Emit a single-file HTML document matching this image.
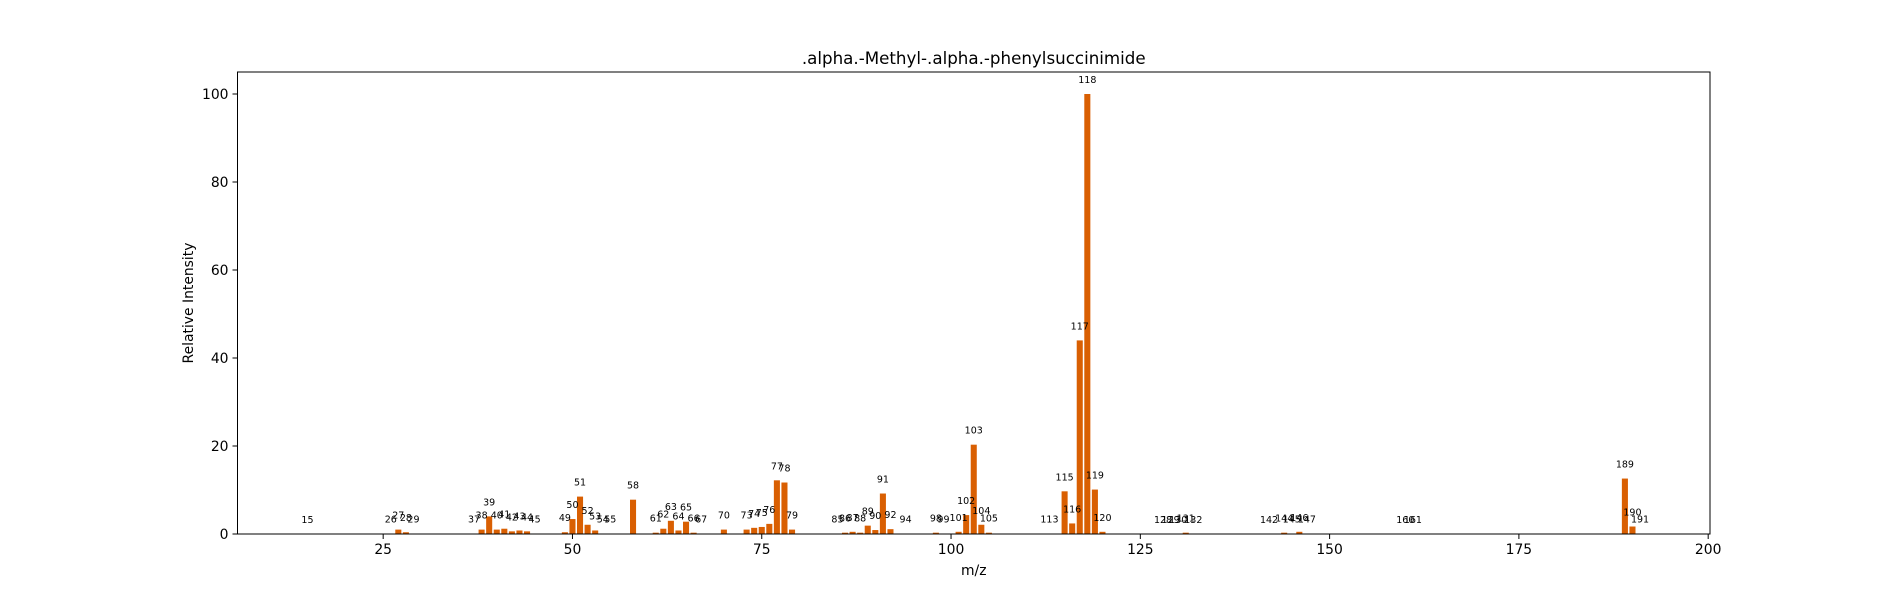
<!DOCTYPE html>
<html><head><meta charset="utf-8"><style>
html,body{margin:0;padding:0;background:#fff;}
svg{display:block;font-family:"DejaVu Sans","Liberation Sans",sans-serif;}
</style></head><body>
<svg id="chart" width="1900" height="600" xmlns="http://www.w3.org/2000/svg">
<rect width="1900" height="600" fill="#fff"/>
<text x="973.75" y="64" text-anchor="middle" font-size="16.7">.alpha.-Methyl-.alpha.-phenylsuccinimide</text>
<text x="973.75" y="575" text-anchor="middle" font-size="13.9">m/z</text>
<text transform="translate(193,303) rotate(-90)" text-anchor="middle" font-size="13.9">Relative Intensity</text>
<g id="bars"></g>
<g id="labels"></g>
<g id="axes"></g>
<rect x="237.5" y="72" width="1472.5" height="462" fill="none" stroke="#000" stroke-width="1"/>
</svg>
<script>
const mz = [15,26,27,28,29,37,38,39,40,41,42,43,44,45,49,50,51,52,53,54,55,58,61,62,63,64,65,66,67,70,73,74,75,76,77,78,79,85,86,87,88,89,90,91,92,94,98,99,101,102,103,104,105,113,115,116,117,118,119,120,128,129,130,131,132,142,144,145,146,147,160,161,189,190,191];
const intensity = [0.05,0.1,1.0,0.4,0.1,0.1,1.0,4.0,1.0,1.2,0.6,0.8,0.6,0.1,0.4,3.4,8.5,2.1,0.8,0.1,0.1,7.8,0.3,1.2,3.0,0.8,2.8,0.3,0.1,1.0,1.0,1.4,1.6,2.3,12.2,11.7,1.0,0.1,0.3,0.5,0.3,1.9,0.9,9.2,1.1,0.1,0.3,0.1,0.5,4.3,20.3,2.1,0.3,0.1,9.7,2.4,44,100,10.1,0.5,0.05,0.05,0.05,0.3,0.05,0.05,0.3,0.1,0.5,0.1,0.05,0.05,12.6,1.7,0.1];
const xTicks = [25,50,75,100,125,150,175,200];
const yTicks = [0,20,40,60,80,100];

const NS = "http://www.w3.org/2000/svg";
const L=237.5,R=1710,T=72,B=534,XMIN=5.76,XMAX=200.24,YMAX=105;
const xs = v => L + (v-XMIN)/(XMAX-XMIN)*(R-L);
const ys = v => B - v/YMAX*(B-T);
const bw = xs(0.8)-xs(0);
const bars=document.getElementById('bars'), labels=document.getElementById('labels'), axes=document.getElementById('axes');
mz.forEach((m,i)=>{
  const v=intensity[i];
  const r=document.createElementNS(NS,'rect');
  
  
  r.setAttribute('x',xs(m)-bw/2); r.setAttribute('y',ys(v));
  r.setAttribute('width',bw); r.setAttribute('height',B-ys(v));
  r.setAttribute('fill','#d95f02');
  bars.appendChild(r);
  const t=document.createElementNS(NS,'text');
  
  
  t.setAttribute('x',xs(m)); t.setAttribute('y',ys(v)-11);
  t.setAttribute('text-anchor','middle'); t.setAttribute('font-size','9.5');
  t.textContent=m;
  labels.appendChild(t);
});
xTicks.forEach(v=>{
  const l=document.createElementNS(NS,'line');
  
  
  l.setAttribute('x1',xs(v));l.setAttribute('x2',xs(v));l.setAttribute('y1',B);l.setAttribute('y2',B+5);
  l.setAttribute('stroke','#000');
  axes.appendChild(l);
  const t=document.createElementNS(NS,'text');
  
  
  t.setAttribute('x',xs(v));t.setAttribute('y',B+20);t.setAttribute('text-anchor','middle');t.setAttribute('font-size','13.9');
  t.textContent=v; axes.appendChild(t);
});
yTicks.forEach(v=>{
  const l=document.createElementNS(NS,'line');
  
  
  l.setAttribute('x1',L-5);l.setAttribute('x2',L);l.setAttribute('y1',ys(v));l.setAttribute('y2',ys(v));
  l.setAttribute('stroke','#000');
  axes.appendChild(l);
  const t=document.createElementNS(NS,'text');
  
  
  t.setAttribute('x',L-9);t.setAttribute('y',ys(v)+5);t.setAttribute('text-anchor','end');t.setAttribute('font-size','13.9');
  t.textContent=v; axes.appendChild(t);
});
</script>
</body></html>
